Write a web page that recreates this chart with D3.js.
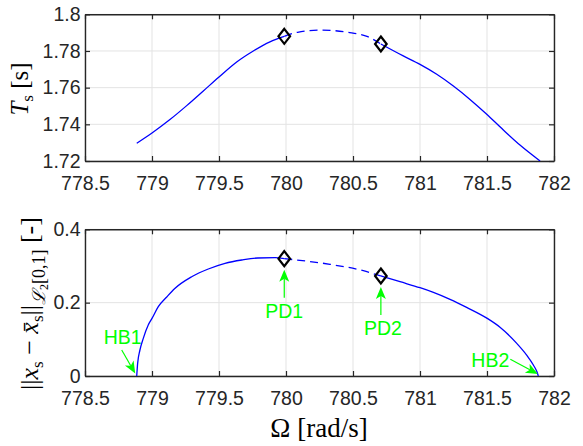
<!DOCTYPE html>
<html>
<head>
<meta charset="utf-8">
<script src="https://d3js.org/d3.v7.min.js"></script>
<style>
  body { margin: 0; background: #fff; }
  svg { display: block; }
</style>
</head>
<body>
<script>

  // tick values + labels
  var omegaTicks = [778.5, 779, 779.5, 780, 780.5, 781, 781.5, 782];
  var omegaTickLabels = ["778.5", "779", "779.5", "780", "780.5", "781", "781.5", "782"];
  var periodTicks = [1.72, 1.74, 1.76, 1.78, 1.8];
  var periodTickLabels = ["1.72", "1.74", "1.76", "1.78", "1.8"];
  var normTicks = [0, 0.2, 0.4];
  var normTickLabels = ["0", "0.2", "0.4"];

  // period T_s along the branch (stable / unstable / stable)
  var periodOmega1 = [778.886, 779.0, 779.134, 779.259, 779.383, 779.5, 779.632, 779.756, 779.88, 779.987];
  var period1 = [1.7297, 1.7353, 1.7426, 1.7502, 1.7582, 1.7658, 1.774, 1.780, 1.785, 1.788];
  var periodOmegaU = [779.987, 780.087, 780.26, 780.46, 780.61, 780.708];
  var periodU = [1.788, 1.7902, 1.7914, 1.7902, 1.7878, 1.7838];
  var periodOmega2 = [780.708, 780.875, 781.0, 781.125, 781.249, 781.373, 781.498, 781.622, 781.746, 781.896];
  var period2 = [1.7838, 1.7773, 1.7727, 1.7673, 1.7609, 1.7536, 1.7455, 1.7369, 1.7287, 1.72];

  // L2 norm of the oscillation
  var normOmega1 = [778.886, 778.893, 778.91, 778.935, 778.972, 779.0, 779.047, 779.11, 779.17, 779.296, 779.42, 779.545, 779.67, 779.79, 779.918, 779.987];
  var norm1 = [0, 0.035, 0.0709, 0.1027, 0.139, 0.157, 0.189, 0.2155, 0.2387, 0.2707, 0.2918, 0.3072, 0.3163, 0.3218, 0.3225, 0.320];
  var normOmegaU = [779.987, 780.08, 780.328, 780.577, 780.708];
  var normU = [0.320, 0.3163, 0.3045, 0.287, 0.2727];
  var normOmega2 = [780.708, 780.851, 781.0, 781.1, 781.224, 781.348, 781.502, 781.597, 781.722, 781.796, 781.846, 781.872, 781.883];
  var norm2 = [0.2727, 0.257, 0.2408, 0.228, 0.209, 0.187, 0.157, 0.133, 0.089, 0.057, 0.030, 0.012, 0];

  // bifurcation points
  var pdOmega = [779.987, 780.708];
  var pdPeriod = [1.788, 1.7838];
  var pdNorm = [0.320, 0.2727];
  var bifNames = ["HB1", "PD1", "PD2", "HB2"];
  var bifOmega = [778.886, 779.987, 780.708, 781.883];
  var bifNorm = [0, 0.320, 0.2727, 0];

  var width = 583, height = 446;
  var axisColor = "#262626", gridColor = "#e3e3e3", green = "#00ff00";

  var svg = d3.select("body").append("svg")
    .attr("width", width)
    .attr("height", height);

  var x = d3.scaleLinear().domain([778.5, 782]).range([85, 554]);
  var yT = d3.scaleLinear().domain([1.72, 1.8]).range([161, 14.3]);
  var yN = d3.scaleLinear().domain([0, 0.4]).range([376, 229.3]);

  var zip = function (xs, ys) {
    return xs.map(function (v, i) { return [v, ys[i]]; });
  };

  var drawPanel = function (y, yTicks, yLabels, id) {
    var g = svg.append("g");
    var top = y.range()[1], bottom = y.range()[0];

    g.append("clipPath").attr("id", id)
      .append("rect")
      .attr("x", x.range()[0]).attr("y", top)
      .attr("width", x.range()[1] - x.range()[0])
      .attr("height", bottom - top);

    // grid
    g.selectAll(".gx").data(omegaTicks).enter().append("line")
      .attr("x1", function (d) { return x(d); })
      .attr("x2", function (d) { return x(d); })
      .attr("y1", top).attr("y2", bottom)
      .attr("stroke", gridColor).attr("stroke-width", 1);
    g.selectAll(".gy").data(yTicks).enter().append("line")
      .attr("x1", x.range()[0]).attr("x2", x.range()[1])
      .attr("y1", function (d) { return y(d); })
      .attr("y2", function (d) { return y(d); })
      .attr("stroke", gridColor).attr("stroke-width", 1);

    var bottomAxis = g.append("g")
      .attr("transform", "translate(0," + bottom + ")")
      .call(d3.axisBottom(x).tickValues(omegaTicks)
        .tickFormat(function (d, i) { return omegaTickLabels[i]; })
        .tickSizeInner(-5).tickSizeOuter(0).tickPadding(15.5));
    var topAxis = g.append("g")
      .attr("transform", "translate(0," + top + ")")
      .call(d3.axisTop(x).tickValues(omegaTicks).tickFormat("")
        .tickSizeInner(-5).tickSizeOuter(0));
    var leftAxis = g.append("g")
      .attr("transform", "translate(" + x.range()[0] + ",0)")
      .call(d3.axisLeft(y).tickValues(yTicks)
        .tickFormat(function (d, i) { return yLabels[i]; })
        .tickSizeInner(-5).tickSizeOuter(0).tickPadding(4.5));
    var rightAxis = g.append("g")
      .attr("transform", "translate(" + x.range()[1] + ",0)")
      .call(d3.axisRight(y).tickValues(yTicks).tickFormat("")
        .tickSizeInner(-5).tickSizeOuter(0));

    [bottomAxis, topAxis, leftAxis, rightAxis].forEach(function (a) {
      a.select(".domain").attr("stroke", axisColor).attr("stroke-width", 1.4);
      a.selectAll(".tick line").attr("stroke", axisColor).attr("stroke-width", 1.2);
      a.selectAll(".tick text")
        .attr("fill", axisColor)
        .style("font-family", "'Liberation Sans', Arial, sans-serif")
        .style("font-size", "19.5px");
    });
    return g;
  };

  var topPanel = drawPanel(yT, periodTicks, periodTickLabels, "clipTop");
  var botPanel = drawPanel(yN, normTicks, normTickLabels, "clipBot");

  var drawBranch = function (g, y, xs, ys, dashed, clip) {
    var line = d3.line()
      .x(function (d) { return x(d[0]); })
      .y(function (d) { return y(d[1]); })
      .curve(d3.curveMonotoneX);
    g.append("path")
      .datum(zip(xs, ys))
      .attr("d", line)
      .attr("clip-path", "url(#" + clip + ")")
      .attr("fill", "none")
      .attr("stroke", "#0000ff")
      .attr("stroke-width", 1.3)
      .attr("stroke-dasharray", dashed ? "8,5" : null);
  };

  drawBranch(topPanel, yT, periodOmega1, period1, false, "clipTop");
  drawBranch(topPanel, yT, periodOmegaU, periodU, true, "clipTop");
  drawBranch(topPanel, yT, periodOmega2, period2, false, "clipTop");
  drawBranch(botPanel, yN, normOmega1, norm1, false, "clipBot");
  drawBranch(botPanel, yN, normOmegaU, normU, true, "clipBot");
  drawBranch(botPanel, yN, normOmega2, norm2, false, "clipBot");

  var diamond = "M0,-7.5L5.8,0L0,7.5L-5.8,0Z";
  var drawDiamonds = function (g, y, ys) {
    g.selectAll(".pd").data(zip(pdOmega, ys)).enter().append("path")
      .attr("d", diamond)
      .attr("transform", function (d) { return "translate(" + x(d[0]) + "," + y(d[1]) + ")"; })
      .attr("fill", "none")
      .attr("stroke", "#000")
      .attr("stroke-width", 2.2);
  };
  drawDiamonds(topPanel, yT, pdPeriod);
  drawDiamonds(botPanel, yN, pdNorm);

  // annotation offsets (px from the point): tail, tip, text
  var annot = {
    HB1: { tail: [-15, -26], tip: [-1.5, -2.5], text: [-14, -32] },
    PD1: { tail: [0, 39], tip: [0, 11], text: [0, 59] },
    PD2: { tail: [0, 39], tip: [0, 11], text: [2, 59] },
    HB2: { tail: [-28, -16.7], tip: [-0.5, -2], text: [-48, -9.3] }
  };

  bifNames.forEach(function (name, i) {
    var px = x(bifOmega[i]), py = yN(bifNorm[i]);
    var a = annot[name];
    var x1 = px + a.tail[0], y1 = py + a.tail[1];
    var x2 = px + a.tip[0], y2 = py + a.tip[1];
    var ang = Math.atan2(y2 - y1, x2 - x1);
    var len = 12, hw = 5, notch = 9;
    var ux = Math.cos(ang), uy = Math.sin(ang);
    var bx = x2 - ux * len, by = y2 - uy * len;
    var nx = x2 - ux * notch, ny = y2 - uy * notch;
    botPanel.append("line")
      .attr("x1", x1).attr("y1", y1)
      .attr("x2", nx).attr("y2", ny)
      .attr("stroke", green).attr("stroke-width", 1.2);
    botPanel.append("path")
      .attr("d", "M" + x2 + "," + y2 +
        "L" + (bx - uy * hw) + "," + (by + ux * hw) +
        "L" + nx + "," + ny +
        "L" + (bx + uy * hw) + "," + (by - ux * hw) + "Z")
      .attr("fill", green);
    botPanel.append("text")
      .attr("x", px + a.text[0])
      .attr("y", py + a.text[1])
      .attr("text-anchor", "middle")
      .attr("fill", green)
      .style("font-family", "'Liberation Sans', Arial, sans-serif")
      .style("font-size", "19.5px")
      .text(name);
  });

  // axis labels (LaTeX style)
  var serif = "'Liberation Serif', 'DejaVu Serif', serif";

  var yLabTop = svg.append("text")
    .attr("transform", "translate(28,89) rotate(-90)")
    .attr("text-anchor", "middle")
    .attr("fill", "#000")
    .style("font-family", serif)
    .style("font-size", "25px");
  yLabTop.append("tspan").style("font-style", "italic").text("T");
  yLabTop.append("tspan").attr("dy", 5).style("font-size", "17px").text("s");
  yLabTop.append("tspan").attr("dy", -5).text(" [s]");

  var yLabBot = svg.append("text")
    .attr("transform", "translate(38,303.5) rotate(-90)")
    .attr("text-anchor", "middle")
    .attr("fill", "#000")
    .style("font-family", serif)
    .style("font-size", "26px");
  yLabBot.append("tspan").text("||");
  yLabBot.append("tspan").style("font-style", "italic").text("x");
  yLabBot.append("tspan").attr("dy", 5).style("font-size", "17px").text("s");
  yLabBot.append("tspan").attr("dy", -5).text(" \u2212 ");
  yLabBot.append("tspan").style("font-style", "italic").text("x\u0304");
  yLabBot.append("tspan").attr("dy", 5).style("font-size", "17px").text("s");
  yLabBot.append("tspan").attr("dy", -5).text("||");
  yLabBot.append("tspan").attr("dy", 7).style("font-size", "18px").style("font-style", "italic").text("\u2112");
  yLabBot.append("tspan").attr("dy", 3).style("font-size", "12px").text("2");
  yLabBot.append("tspan").attr("dy", -3).style("font-size", "18px").text("[0,1]");
  yLabBot.append("tspan").attr("dy", -7).text(" [-]");

  svg.append("text")
    .attr("x", 319)
    .attr("y", 437)
    .attr("text-anchor", "middle")
    .attr("fill", "#000")
    .style("font-family", serif)
    .style("font-size", "27px")
    .text("\u03a9 [rad/s]");

</script>
</body>
</html>
